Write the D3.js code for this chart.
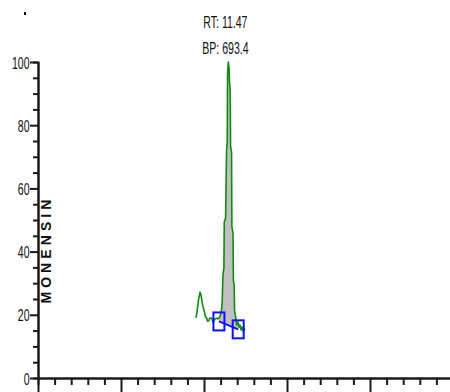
<!DOCTYPE html>
<html>
<head>
<meta charset="utf-8">
<script src="https://cdn.jsdelivr.net/npm/d3@7"></script>
<style>
  html, body { margin: 0; padding: 0; background: #fff; }
  svg { display: block; }
</style>
</head>
<body>
<svg id="chart" width="450" height="392"></svg>
<script>
// Chromatogram trace: retention time (min) vs relative abundance (%)
const traceTime = [
  9.52, 9.58, 9.67, 9.76, 9.82, 9.88, 9.96, 10.03, 10.09, 10.16,
  10.21, 10.28, 10.36, 10.46, 10.56, 10.66, 10.77, 10.84, 10.90, 10.96,
  11.02, 11.07, 11.10, 11.13, 11.16, 11.20, 11.22, 11.30, 11.36, 11.40,
  11.42, 11.47, 11.51, 11.54, 11.58, 11.60, 11.66, 11.68, 11.75, 11.77,
  11.82, 11.84, 11.90, 11.97, 12.05, 12.11, 12.17, 12.23, 12.29, 12.37,
  12.40, 12.47
];
const traceAbund = [
  19.0, 20.9, 24.7, 27.2, 26.3, 24.1, 22.2, 20.9, 19.3, 19.0,
  18.0, 18.1, 19.0, 18.9, 17.5, 18.7, 18.9, 18.7, 19.0, 19.4,
  20.6, 22.2, 24.7, 31.0, 33.5, 34.8, 49.4, 50.6, 72.2, 74.7,
  96.8, 100.0, 98.1, 93.4, 91.1, 73.4, 71.5, 47.8, 45.9, 31.0,
  29.1, 21.5, 19.6, 16.8, 17.7, 16.1, 16.8, 15.2, 16.1, 14.6,
  15.8, 15.2
];

// Peak annotation
const peakRT = 11.47;
const peakBP = 693.4;
const peakLabels = ["RT: " + peakRT.toFixed(2), "BP: " + peakBP.toFixed(1)];

// Integration baseline (start and end of the integrated peak)
const baselineTime = [10.90, 12.06];
const baselineAbund = [17.9, 15.4];

// Axis ticks
const yMajorTicks = [0, 20, 40, 60, 80, 100];
const yMinorTicks = [5, 10, 15, 25, 30, 35, 45, 50, 55, 65, 70, 75, 85, 90, 95];
const xMajorTicks = [0, 5, 10, 15, 20, 25];
const xMinorTicks = [1, 2, 3, 4, 6, 7, 8, 9, 11, 12, 13, 14, 16, 17, 18, 19, 21, 22, 23, 24];
const yTitle = "MONENSIN";

const svg = d3.select("#chart");
const axisColor = "#1a1a1a";
const narrow = "scale(0.62,1)";
const labelFont = "'Liberation Sans', Arial, sans-serif";

const x = d3.scaleLinear().domain([0, 25]).range([38, 453]);
const y = d3.scaleLinear().domain([0, 100]).range([378, 62]);

// Piecewise-linear lookups along the trace and baseline
const traceAt = d3.scaleLinear().domain(traceTime).range(traceAbund);
const baseAt = d3.scaleLinear().domain(baselineTime).range(baselineAbund);

const trace = traceTime.map((t, i) => ({ t, v: traceAbund[i] }));

// Shaded integrated area between trace and baseline
const areaPts = [{ t: baselineTime[0], v: traceAt(baselineTime[0]) }]
  .concat(trace.filter(d => d.t > baselineTime[0] && d.t < baselineTime[1]))
  .concat([{ t: baselineTime[1], v: traceAt(baselineTime[1]) }]);

svg.append("path")
  .datum(areaPts)
  .attr("fill", "#c0c0c0")
  .attr("d", d3.area()
    .x(d => x(d.t))
    .y0(d => y(baseAt(d.t)))
    .y1(d => y(d.v)));

// Trace line
svg.append("path")
  .datum(trace)
  .attr("fill", "none")
  .attr("stroke", "#118a11")
  .attr("stroke-width", 1.6)
  .attr("stroke-linejoin", "round")
  .attr("d", d3.line().x(d => x(d.t)).y(d => y(d.v)));

// Baseline segment and boundary markers
svg.append("line")
  .attr("x1", x(baselineTime[0])).attr("y1", y(baselineAbund[0]))
  .attr("x2", x(baselineTime[1])).attr("y2", y(baselineAbund[1]))
  .attr("stroke", "#1010ff").attr("stroke-width", 2);

svg.selectAll("rect.marker")
  .data(baselineTime.map((t, i) => ({ t, v: baselineAbund[i] })))
  .join("rect")
  .attr("class", "marker")
  .attr("x", d => x(d.t) - 5.5)
  .attr("y", d => y(d.v) - 9)
  .attr("width", 11)
  .attr("height", 18)
  .attr("fill", "none")
  .attr("stroke", "#1010ff")
  .attr("stroke-width", 2);

// Y axis: minor ticks, then major ticks with labels
const yMinor = svg.append("g")
  .attr("transform", `translate(${x(0)},0)`)
  .call(d3.axisLeft(y).tickValues(yMinorTicks).tickSize(5).tickFormat(""));
const yMajor = svg.append("g")
  .attr("transform", `translate(${x(0)},0)`)
  .call(d3.axisLeft(y).tickValues(yMajorTicks).tickSize(8).tickSizeOuter(0));
[yMinor, yMajor].forEach(g => {
  g.select(".domain").attr("stroke", axisColor).attr("stroke-width", 2);
  g.selectAll(".tick line").attr("stroke", axisColor).attr("stroke-width", 2);
});
yMajor.selectAll(".tick text")
  .attr("x", 0)
  .attr("dy", "0.36em")
  .attr("transform", "translate(-8.5,0) " + narrow)
  .attr("fill", "#111")
  .style("font-family", labelFont)
  .style("font-size", "17px");

// X axis: minor and major ticks (labels fall below the visible area)
const xMinor = svg.append("g")
  .attr("transform", `translate(0,${y(0)})`)
  .call(d3.axisBottom(x).tickValues(xMinorTicks).tickSize(7).tickFormat(""));
const xMajor = svg.append("g")
  .attr("transform", `translate(0,${y(0)})`)
  .call(d3.axisBottom(x).tickValues(xMajorTicks).tickSize(16).tickSizeOuter(0).tickFormat(""));
[xMinor, xMajor].forEach(g => {
  g.select(".domain").attr("stroke", axisColor).attr("stroke-width", 2);
  g.selectAll(".tick line").attr("stroke", axisColor).attr("stroke-width", 2);
});

// Y axis title
svg.append("text")
  .attr("transform", `translate(51,${y(40)}) rotate(-90)`)
  .attr("text-anchor", "middle")
  .attr("textLength", 104)
  .attr("lengthAdjust", "spacing")
  .attr("fill", "#111")
  .style("font-family", labelFont)
  .style("font-weight", "bold")
  .style("font-size", "14px")
  .text(yTitle);

// Peak annotation above the apex
peakLabels.forEach((s, i) => {
  svg.append("g")
    .attr("transform", `translate(${x(peakRT) - 3},${28 + i * 26}) ${narrow}`)
    .append("text")
    .attr("text-anchor", "middle")
    .attr("fill", "#111")
    .style("font-family", labelFont)
    .style("font-size", "17px")
    .text(s);
});

// Small mark at the top-left corner of the plot frame
svg.append("rect")
  .attr("x", 24).attr("y", 12).attr("width", 2).attr("height", 3)
  .attr("fill", "#111");
</script>
</body>
</html>
